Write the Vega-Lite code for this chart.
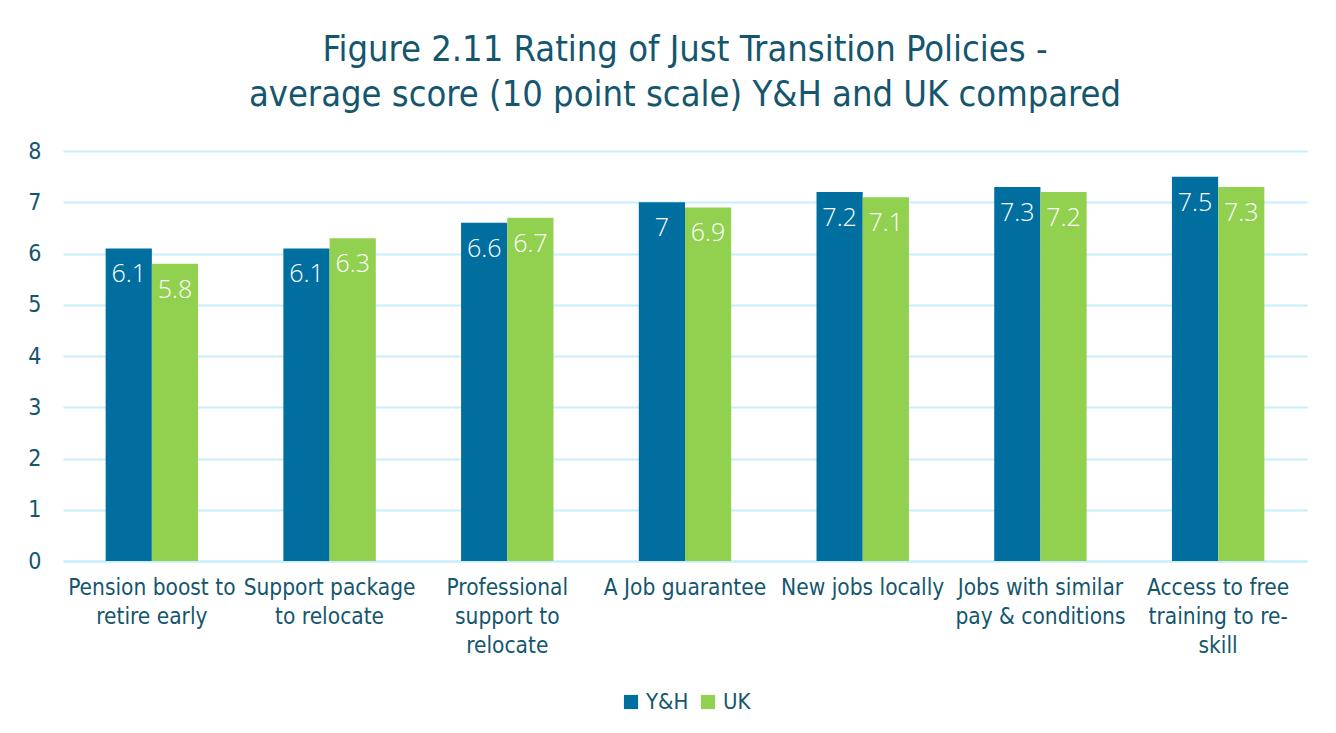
{
  "$schema": "https://vega.github.io/schema/vega-lite/v6.json",
  "width": 1244,
  "height": 410,
  "padding": {"left": 27, "top": 32, "right": 30, "bottom": 10},
  "background": "white",
  "title": {
    "text": ["Figure 2.11 Rating of Just Transition Policies  -", "average score (10 point scale) Y&H and UK compared"],
    "font": "DejaVu Sans Condensed",
    "fontSize": 36,
    "fontWeight": "normal",
    "color": "#14566e",
    "lineHeight": 45,
    "offset": 26,
    "anchor": "middle"
  },
  "data": {
    "values": [
      {"policy": "Pension boost to retire early", "region": "Y&H", "score": 6.1},
      {"policy": "Pension boost to retire early", "region": "UK", "score": 5.8},
      {"policy": "Support package to relocate", "region": "Y&H", "score": 6.1},
      {"policy": "Support package to relocate", "region": "UK", "score": 6.3},
      {"policy": "Professional support to relocate", "region": "Y&H", "score": 6.6},
      {"policy": "Professional support to relocate", "region": "UK", "score": 6.7},
      {"policy": "A Job guarantee", "region": "Y&H", "score": 7},
      {"policy": "A Job guarantee", "region": "UK", "score": 6.9},
      {"policy": "New jobs locally", "region": "Y&H", "score": 7.2},
      {"policy": "New jobs locally", "region": "UK", "score": 7.1},
      {"policy": "Jobs with similar pay & conditions", "region": "Y&H", "score": 7.3},
      {"policy": "Jobs with similar pay & conditions", "region": "UK", "score": 7.2},
      {"policy": "Access to free training to re-skill", "region": "Y&H", "score": 7.5},
      {"policy": "Access to free training to re-skill", "region": "UK", "score": 7.3}
    ]
  },
  "encoding": {
    "x": {
      "field": "policy",
      "type": "nominal",
      "sort": null,
      "scale": {"paddingInner": 0.48, "paddingOuter": 0.24},
      "axis": {
        "title": null,
        "labelAngle": 0,
        "labelFont": "DejaVu Sans Condensed",
        "labelFontSize": 22.5,
        "labelColor": "#14566e",
        "labelLineHeight": 29,
        "labelPadding": 15,
        "labelBaseline": "top",
        "labelLimit": 300,
        "ticks": false,
        "domainColor": "#c8eefb",
        "domainWidth": 2,
        "labelExpr": "datum.value == 'Pension boost to retire early' ? ['Pension boost to', 'retire early'] : datum.value == 'Support package to relocate' ? ['Support package', 'to relocate'] : datum.value == 'Professional support to relocate' ? ['Professional', 'support to', 'relocate'] : datum.value == 'Jobs with similar pay & conditions' ? ['Jobs with similar', 'pay & conditions'] : datum.value == 'Access to free training to re-skill' ? ['Access to free', 'training to re-', 'skill'] : datum.value"
      }
    },
    "xOffset": {"field": "region", "type": "nominal", "sort": ["Y&H", "UK"], "scale": {"paddingInner": 0, "paddingOuter": 0}},
    "y": {
      "field": "score",
      "type": "quantitative",
      "scale": {"domain": [0, 8], "nice": false},
      "axis": {
        "title": null,
        "values": [0, 1, 2, 3, 4, 5, 6, 7, 8],
        "labelOverlap": false,
        "labelFont": "DejaVu Sans Condensed",
        "labelFontSize": 23,
        "labelColor": "#14566e",
        "labelPadding": 22,
        "ticks": false,
        "domain": false,
        "gridColor": "#c8eefb",
        "gridWidth": 2
      }
    }
  },
  "layer": [
    {
      "mark": {"type": "bar"},
      "encoding": {
        "color": {
          "field": "region",
          "type": "nominal",
          "sort": ["Y&H", "UK"],
          "scale": {"domain": ["Y&H", "UK"], "range": ["#006fa0", "#92d050"]},
          "legend": {
            "title": null,
            "orient": "bottom",
            "direction": "horizontal",
            "symbolType": "square",
            "symbolSize": 200,
            "symbolStrokeWidth": 0,
            "labelFont": "DejaVu Sans Condensed",
            "labelFontSize": 22,
            "labelColor": "#14566e",
            "labelOffset": 4,
            "columnPadding": 8,
            "offset": 34
          }
        }
      }
    },
    {
      "mark": {"type": "text", "color": "white", "dy": 26, "baseline": "middle", "font": "Open Sans", "fontWeight": 300, "fontSize": 25},
      "encoding": {"text": {"field": "score", "type": "quantitative"}}
    }
  ],
  "config": {
    "view": {"stroke": null},
    "legend": {"layout": {"bottom": {"anchor": "middle"}}}
  }
}
